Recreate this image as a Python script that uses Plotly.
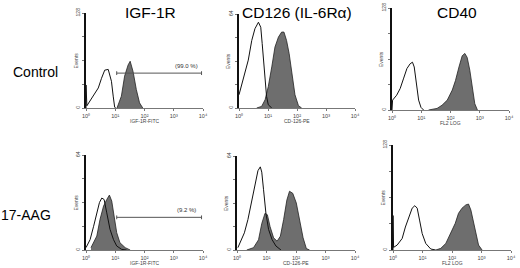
import plotly.graph_objects as go

# ---------------- data (x in log10 decades, y in events) ----------------
decade_ticks = [0, 1, 2, 3, 4]
decade_labels = ["10\u2070", "10\u00b9", "10\u00b2", "10\u00b3", "10\u2074"]

titles = ["IGF-1R", "CD126 (IL-6R\u03b1)", "CD40"]
row_labels = ["Control", "17-AAG"]
x_titles = ["IGF-1R-FITC", "CD-126-PE", "FL2 LOG"]
y_max = [128, 64, 128, 64, 64, 128]

# Control, IGF-1R
igf_ctrl_open_x = [0.0, 0.0, 0.03, 0.25, 0.42, 0.53, 0.64, 0.76, 0.81, 0.87, 0.93, 0.98, 1.02]
igf_ctrl_open_y = [0, 31, 3, 16, 27, 40, 51, 52, 45, 36, 16, 1, 0]
igf_ctrl_fill_x = [1.06, 1.21, 1.32, 1.44, 1.51, 1.61, 1.72, 1.83, 1.94]
igf_ctrl_fill_y = [0, 16, 43, 58, 63, 49, 25, 7, 0]
# Control, CD126
cd126_ctrl_open_x = [0.0, 0.09, 0.21, 0.32, 0.44, 0.55, 0.67, 0.75, 0.80, 0.87, 0.95, 1.01, 1.13]
cd126_ctrl_open_y = [9, 15.7, 23.6, 32.6, 46, 54, 58.4, 55, 43.8, 23.6, 7.9, 2.2, 0]
cd126_ctrl_fill_x = [0.61, 0.78, 0.90, 1.01, 1.13, 1.24, 1.36, 1.47, 1.55, 1.64, 1.73, 1.83, 1.93, 2.05, 2.16]
cd126_ctrl_fill_y = [0, 1.1, 5.6, 14.6, 28, 41.5, 48.3, 51.7, 51.7, 46, 37, 23.6, 9, 1.6, 0]
# Control, CD40
cd40_ctrl_open_x = [0.0, 0.02, 0.16, 0.28, 0.39, 0.51, 0.62, 0.70, 0.76, 0.83, 0.91, 0.99, 1.08]
cd40_ctrl_open_y = [0, 12.4, 18.6, 27, 39, 52, 58, 60, 54, 33, 12.4, 3.3, 0]
cd40_ctrl_fill_x = [1.25, 1.54, 1.71, 1.89, 2.06, 2.17, 2.29, 2.40, 2.49, 2.57, 2.66, 2.75, 2.83, 2.92]
cd40_ctrl_fill_y = [0, 2, 6, 12.4, 25, 37, 54, 68, 71, 66, 50, 25, 8, 0]
# 17-AAG, IGF-1R
igf_aag_open_x = [0.0, 0.14, 0.26, 0.37, 0.46, 0.54, 0.62, 0.71, 0.82, 0.94, 1.05, 1.22, 1.39]
igf_aag_open_y = [1.6, 7, 16, 25, 32, 35, 34, 25, 14, 7, 2.7, 0.4, 0]
igf_aag_fill_x = [0.17, 0.37, 0.48, 0.60, 0.71, 0.80, 0.88, 0.96, 1.05, 1.16, 1.34, 1.51]
igf_aag_fill_y = [1.6, 9.4, 20.7, 29.6, 34, 37, 33, 23, 11.7, 4.9, 1.6, 0]
# 17-AAG, CD126
cd126_aag_open_x = [0.03, 0.14, 0.25, 0.37, 0.48, 0.59, 0.71, 0.79, 0.84, 0.90, 0.98, 1.07, 1.19, 1.32, 1.49]
cd126_aag_open_y = [1.6, 7, 11.7, 20.7, 32, 43, 54, 56.6, 53, 41, 25, 14, 7, 2.7, 0]
cd126_aag_fill_x = [0.33, 0.56, 0.73, 0.84, 0.95, 1.03, 1.12, 1.24, 1.36, 1.47, 1.58, 1.69, 1.78, 1.89, 2.01, 2.12, 2.24, 2.35, 2.46]
cd126_aag_fill_y = [0, 1.6, 7, 18, 25, 24, 16, 8.3, 6, 9.4, 20.7, 34, 40, 38.6, 32, 20.7, 8.3, 1, 0]
# 17-AAG, CD40
cd40_aag_open_x = [0.0, 0.0, 0.02, 0.14, 0.31, 0.42, 0.53, 0.65, 0.74, 0.82, 0.90, 0.99, 1.11, 1.28, 1.45]
cd40_aag_open_y = [0, 42, 3.2, 6, 14, 28, 40, 51, 54, 51, 36.5, 20, 8, 1.2, 0]
cd40_aag_fill_x = [1.45, 1.62, 1.79, 1.96, 2.11, 2.22, 2.34, 2.47, 2.56, 2.64, 2.72, 2.81, 2.90, 3.02]
cd40_aag_fill_y = [0, 2, 8, 20, 32.5, 44.7, 51, 55, 56, 48.7, 36.5, 20, 6, 0]

# gate markers (IGF-1R panels)
gate_start = 1.05
gate_end = 3.95
gate_level = {1: 47, 4: 22}
gate_text = {1: "(99.0 %)", 4: "(9.2 %)"}
gate_text_x = {1: 3.45, 4: 3.45}

open_series = [(igf_ctrl_open_x, igf_ctrl_open_y), (cd126_ctrl_open_x, cd126_ctrl_open_y),
               (cd40_ctrl_open_x, cd40_ctrl_open_y), (igf_aag_open_x, igf_aag_open_y),
               (cd126_aag_open_x, cd126_aag_open_y), (cd40_aag_open_x, cd40_aag_open_y)]
fill_series = [(igf_ctrl_fill_x, igf_ctrl_fill_y), (cd126_ctrl_fill_x, cd126_ctrl_fill_y),
               (cd40_ctrl_fill_x, cd40_ctrl_fill_y), (igf_aag_fill_x, igf_aag_fill_y),
               (cd126_aag_fill_x, cd126_aag_fill_y), (cd40_aag_fill_x, cd40_aag_fill_y)]

# ---------------- layout (pixel boxes of each panel) ----------------
W, H = 520, 268
boxes = [(86, 203, 13, 108), (239, 355, 14, 108), (392, 509, 8, 110),
         (86, 203, 155, 250), (237, 355, 156, 250), (393, 511, 145, 250)]

FONT = "Liberation Sans, Arial, sans-serif"
fig = go.Figure()
layout = dict(width=W, height=H, margin=dict(l=0, r=0, t=0, b=0, autoexpand=False),
              template="none",
              paper_bgcolor="white", plot_bgcolor="white", showlegend=False)
annotations = []
shapes = []

for i, (x0, x1, y0, y1) in enumerate(boxes):
    n = i + 1
    xa = "xaxis" if n == 1 else f"xaxis{n}"
    ya = "yaxis" if n == 1 else f"yaxis{n}"
    xr = "x" if n == 1 else f"x{n}"
    yr = "y" if n == 1 else f"y{n}"
    ym = y_max[i]
    fx, fy = fill_series[i]
    ox, oy = open_series[i]
    fig.add_trace(go.Scatter(x=fx, y=fy, xaxis=xr, yaxis=yr, mode="lines",
                             fill="tozeroy", fillcolor="#6e6e6e",
                             line=dict(color="#222222", width=0.8)))
    fig.add_trace(go.Scatter(x=ox, y=oy, xaxis=xr, yaxis=yr, mode="lines",
                             line=dict(color="#111111", width=1)))
    layout[xa] = dict(domain=[x0 / W, x1 / W], range=[0, 4], anchor=yr, automargin=False,
                      showgrid=False, zeroline=False, showline=True,
                      linecolor="#777777", linewidth=1,
                      tickmode="array", tickvals=decade_ticks, ticktext=decade_labels,
                      ticks="outside", ticklen=2, tickcolor="#777777",
                      tickfont=dict(size=5.5, color="#444444", family=FONT))
    layout[ya] = dict(domain=[1 - y1 / H, 1 - y0 / H], range=[0, ym], anchor=xr, automargin=False,
                      showgrid=False, zeroline=False, showline=True,
                      linecolor="#111111", linewidth=1.6,
                      tickmode="array", tickvals=[0, ym], ticktext=["0", str(ym)],
                      ticks="outside", ticklen=2, tickcolor="#777777",
                      minor=dict(tickmode="array", tickvals=[ym / 4, ym / 2, 3 * ym / 4],
                                 ticks="outside", ticklen=2, tickcolor="#777777"),
                      tickangle=-90,
                      tickfont=dict(size=5, color="#444444", family=FONT))
    # axis titles
    annotations.append(dict(x=(x0 + x1) / 2 / W, y=1 - (y1 + 13) / H, xref="paper", yref="paper",
                            xanchor="center", yanchor="middle",
                            text=x_titles[i % 3], showarrow=False,
                            font=dict(size=5, color="#444444", family=FONT)))
    annotations.append(dict(x=(x0 - 11) / W, y=1 - ((y0 + y1) / 2) / H, xref="paper", yref="paper",
                            xanchor="center", yanchor="middle",
                            text="Events", showarrow=False, textangle=-90,
                            font=dict(size=5, color="#444444", family=FONT)))
    if n in gate_level:
        g = gate_level[n]
        shapes.append(dict(type="line", xref=xr, yref=yr, x0=gate_start, x1=gate_end,
                           y0=g, y1=g, line=dict(color="#555555", width=1)))
        for gx in (gate_start, gate_end):
            shapes.append(dict(type="line", xref=xr, yref=yr, x0=gx, x1=gx,
                               y0=g - ym * 0.02, y1=g + ym * 0.02,
                               line=dict(color="#555555", width=1)))
        annotations.append(dict(x=gate_text_x[n], y=g, xref=xr, yref=yr, yshift=7,
                                xanchor="center", yanchor="middle",
                                text=gate_text[n], showarrow=False,
                                font=dict(size=6, color="#333333", family=FONT)))

# column titles
for cx, t in zip([150, 297, 457], titles):
    annotations.append(dict(x=cx / W, y=1 - 12 / H, xref="paper", yref="paper", text=t,
                            xanchor="center", yanchor="middle",
                            showarrow=False, font=dict(size=15.5, color="black", family=FONT)))
# row labels
for (cx, cy), t in zip([(35, 72), (26, 215)], row_labels):
    annotations.append(dict(x=cx / W, y=1 - cy / H, xref="paper", yref="paper", text=t,
                            xanchor="center", yanchor="middle",
                            showarrow=False, font=dict(size=14, color="black", family=FONT)))

layout["annotations"] = annotations
layout["shapes"] = shapes
fig.update_layout(**layout)
fig.write_html("out.html", config={"displayModeBar": False, "staticPlot": True},
               post_script="document.body.style.margin='0';document.body.style.padding='0';")
